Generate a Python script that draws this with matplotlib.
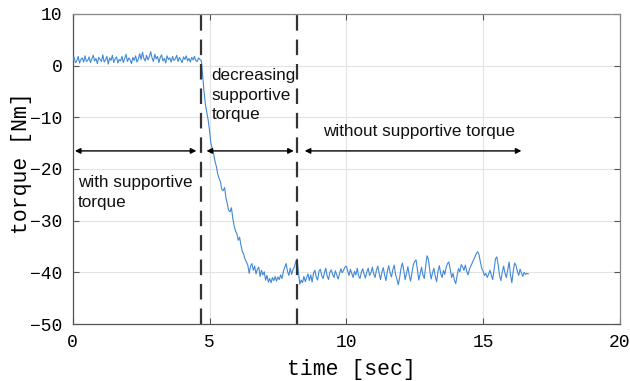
import numpy as np
import matplotlib
matplotlib.use("Agg")
import matplotlib.pyplot as plt

# ---------------- data ----------------
# phase 1: with supportive torque (0.00 - 4.70 s)
t1_range = (0.0, 4.70)
torque1 = [1.0, 1.6, 0.6, 0.9, 1.8, 0.5, 1.2, 1.5, 0.7, 1.9, 0.8, 1.0, 1.7, 0.6, 1.3, 2.0,
           0.9, 1.4, 0.4, 1.6, 1.2, 0.8, 2.1, 0.7, 1.1, 1.8, 0.3, 1.5, 1.0, 2.0, 0.6, 1.3,
           1.7, 0.5, 1.2, 0.9, 1.8, 0.6, 1.4, 2.2, 0.8, 1.5, 1.1, 0.4, 1.6, 1.0, 1.9, 0.7,
           1.3, 2.3, 1.2, 2.6, 1.4, 0.9, 2.0, 1.1, 1.7, 2.7, 1.5, 0.8, 2.2, 1.3, 1.8, 0.6,
           1.6, 2.1, 0.9, 1.4, 0.5, 1.9, 1.2, 1.5, 0.7, 1.8, 1.0, 1.3, 2.0, 0.8, 1.6, 1.1,
           0.6, 1.7, 1.2, 1.9, 0.9, 1.4, 0.7, 1.6, 1.1, 1.8, 1.0, 0.8, 1.5, 1.2, 1.0]

# phase 2: decreasing supportive torque (4.70 - 8.20 s)
t2_range = (4.70, 8.20)
torque2 = [1.0, -2.0, -5.0, -7.5, -9.0, -10.5, -12.5, -15.0, -16.0, -17.0, -18.5, -19.5,
           -21.0, -21.8, -22.5, -24.0, -24.2, -23.6, -25.5, -26.8, -28.0, -28.3, -27.5,
           -29.5, -31.0, -32.0, -32.5, -33.8, -33.2, -34.8, -36.0, -36.5, -37.5, -38.0,
           -38.6, -40.2, -38.8, -38.3, -39.6, -38.8, -40.3, -39.4, -39.0, -40.8, -39.6,
           -40.5, -39.9, -41.5, -40.6, -41.9, -41.2, -42.0, -41.0, -41.6, -40.8, -41.7,
           -40.9, -41.4, -40.5, -41.2, -39.8, -39.0, -38.3, -39.8, -40.6, -39.2, -40.4,
           -39.5, -39.0, -38.0, -37.4]

# phase 3: without supportive torque (8.25 - 16.65 s)
t3_range = (8.25, 16.65)
torque3 = [-40.0, -42.3, -41.5, -42.0, -40.8, -41.8, -41.0, -40.3, -41.6, -40.5, -41.9,
           -40.2, -39.6, -40.9, -41.5, -39.8, -39.4, -40.6, -41.2, -40.1, -39.2, -40.7,
           -41.4, -40.0, -39.5, -40.4, -41.0, -39.7, -40.5, -41.3, -40.3, -39.3, -40.1,
           -39.6, -39.0, -38.8, -39.7, -40.6, -39.4, -40.2, -41.0, -39.8, -40.5, -39.2,
           -40.7, -41.2, -40.0, -39.3, -40.4, -41.1, -39.9, -39.2, -40.6, -40.1, -39.0,
           -40.3, -41.0, -39.6, -38.8, -40.2, -41.4, -40.0, -39.1, -40.5, -41.6, -39.8,
           -38.7, -40.1, -40.9, -39.5, -38.6, -40.4, -41.3, -42.4, -41.0, -39.2, -38.2,
           -39.6, -41.4, -40.2, -38.9, -40.6, -41.7, -40.0, -38.5, -37.9, -37.6, -39.5,
           -41.5, -40.3, -39.0, -40.5, -41.2, -38.8, -36.8, -37.5, -39.6, -41.3, -40.1,
           -39.2, -40.8, -41.8, -39.9, -38.7, -40.2, -41.0, -39.6, -40.4, -39.0, -38.3,
           -38.0, -39.5, -41.0, -40.2, -41.5, -42.2, -40.6, -39.3, -39.9, -38.5, -38.9,
           -39.6, -38.6, -39.8, -40.5, -39.4, -38.8, -38.2, -37.6, -37.0, -36.4, -36.0,
           -36.6, -38.0, -39.2, -39.8, -40.6, -40.2, -41.0, -40.4, -39.6, -40.5, -41.4,
           -39.5, -37.4, -37.0, -38.5, -40.6, -41.6, -40.0, -38.8, -40.2, -41.0, -39.5,
           -38.0, -40.5, -42.0, -39.8, -38.2, -38.6, -39.8, -40.6, -39.4, -40.1, -40.8,
           -40.0, -40.4, -40.2, -40.3]

phase_bounds = [4.68, 8.19]
arrow_y = -16.5
arrow_spans = [(0.08, 4.52), (4.89, 8.08), (8.48, 16.4)]
x_ticks = [0, 5, 10, 15, 20]
y_ticks = [-50, -40, -30, -20, -10, 0, 10]
labels = {
    "with": "with supportive\ntorque",
    "dec": "decreasing\nsupportive\ntorque",
    "without": "without supportive torque",
}

# ---------------- plot ----------------
t = np.concatenate([
    np.linspace(*t1_range, len(torque1)),
    np.linspace(*t2_range, len(torque2))[1:],
    np.linspace(*t3_range, len(torque3)),
])
y = np.concatenate([torque1, torque2[1:], torque3])

fig = plt.figure(figsize=(6.3, 3.81), dpi=100)
ax = fig.add_axes([0.1154, 0.1496, 0.984 - 0.1154, 0.9633 - 0.1496])

ax.plot(t, y, color="#4189d6", lw=0.8, zorder=3)

for xb in phase_bounds:
    ax.axvline(xb, color="#333333", lw=1.6, dashes=(7, 4), zorder=4)

for a, b in arrow_spans:
    ax.annotate("", xy=(b, arrow_y), xytext=(a, arrow_y),
                arrowprops=dict(arrowstyle="<|-|>", color="black", lw=1.0,
                                mutation_scale=8, shrinkA=0, shrinkB=0), zorder=5)

tfont = dict(family="Liberation Sans", fontsize=12.3, color="#111111", linespacing=1.38)
ax.text(0.2, -21.2, labels["with"], va="top", ha="left", **tfont)
ax.text(5.08, -0.5, labels["dec"], va="top", ha="left", **tfont)
ax.text(9.15, -12.7, labels["without"], va="center", ha="left", **tfont)

ax.set_xlim(0, 20)
ax.set_ylim(-50, 10)
ax.set_xticks(x_ticks)
ax.set_yticks(y_ticks)
ax.grid(True, color="#e3e3e3", lw=0.8, zorder=0)
ax.set_axisbelow(True)

mono = "Liberation Mono"
ax.tick_params(direction="in", length=4, width=0.8, color="#555555",
               top=True, right=True, labelsize=13, pad=7.5)
for lab in ax.get_xticklabels() + ax.get_yticklabels():
    lab.set_family(mono)
for s in ax.spines.values():
    s.set_color("#888888")
    s.set_linewidth(0.9)
ax.spines["left"].set_color("#555555")
ax.spines["bottom"].set_color("#555555")

ax.set_xlabel("time [sec]", family=mono, fontsize=15.5)
ax.set_ylabel("torque [Nm]", family=mono, fontsize=15.5)
ax.xaxis.set_label_coords(0.51, -0.113)
ax.yaxis.set_label_coords(-0.075, 0.52)

fig.savefig("out.png", dpi=100)
